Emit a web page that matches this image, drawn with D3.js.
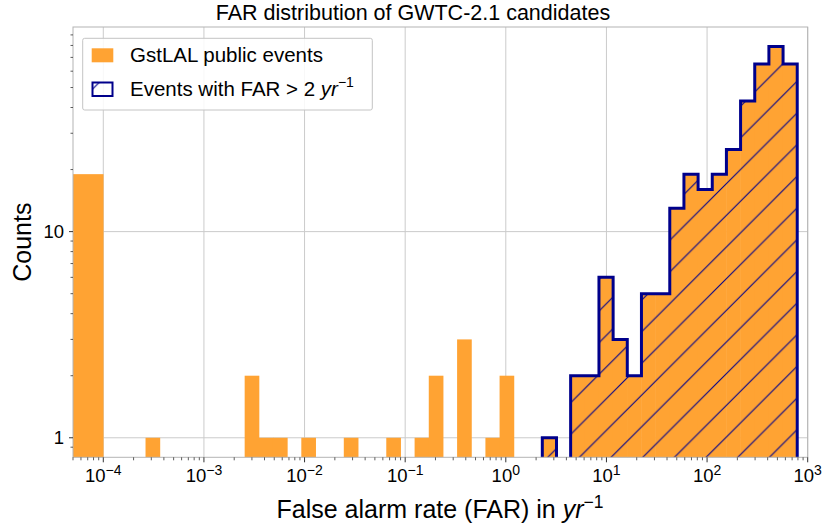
<!DOCTYPE html>
<html>
<head>
<meta charset="utf-8">
<script src="https://cdn.jsdelivr.net/npm/d3@7"></script>
<style>
  body { margin: 0; background: #fff; }
  text { font-family: "Liberation Sans", Arial, sans-serif; fill: #000; }
</style>
</head>
<body>
<div id="chart"></div>
<script>
// histogram of GstLAL public events, FAR in yr^-1, log spaced bins
let farEdgeMin = 1e-4,
    farEdgeMax = 787,
    nBins = 49;
// everything below 1e-4 lands in one wide bin
let underflowCount = 19;
let binCounts = [
  0, 0, 0, 1, 0, 0, 0, 0, 0, 0,
  2, 1, 1, 0, 1, 0, 0, 1, 0, 0,
  1, 0, 1, 2, 0, 3, 0, 1, 2, 0,
  0, 1, 0, 2, 2, 6, 3, 2, 5, 5,
  13, 19, 16, 19, 25, 43, 65, 79, 65
];
let farThreshold = 2;
let xTickValues = [1e-4, 1e-3, 1e-2, 1e-1, 1e0, 1e1, 1e2, 1e3];
let xTickExps = ["\u22124", "\u22123", "\u22122", "\u22121", "0", "1", "2", "3"];
let yTickValues = [1, 10];
let yTickLabels = ["1", "10"];

let chartW = 826, chartH = 532;
let pLeft = 73, pRight = 807.7, pTop = 27, pBottom = 457.3;

let binEdges = d3.range(nBins + 1).map(i => farEdgeMin * Math.pow(farEdgeMax / farEdgeMin, i / nBins));
let bins = binCounts.map((c, i) => ({ x0: binEdges[i], x1: binEdges[i + 1], count: c }));
bins.unshift({ x0: 1e-7, x1: farEdgeMin, count: underflowCount });
let highBins = bins.map(b => ({ x0: b.x0, x1: b.x1, count: b.x0 >= farThreshold ? b.count : 0 }));

let x = d3.scaleLog().domain([5e-5, 1e3]).range([pLeft, pRight]);
let y = d3.scaleLog().domain([0.804, 98.3]).range([pBottom, pTop]);

let svg = d3.select("#chart").append("svg")
  .attr("width", chartW)
  .attr("height", chartH);

let defs = svg.append("defs");
defs.append("clipPath").attr("id", "plotClip")
  .append("rect")
  .attr("x", pLeft).attr("y", pTop)
  .attr("width", pRight - pLeft).attr("height", pBottom - pTop);

let P = 31.67;
let hatch = defs.append("pattern")
  .attr("id", "hatch")
  .attr("patternUnits", "userSpaceOnUse")
  .attr("width", P).attr("height", P)
  .attr("patternTransform", "translate(23.3,0)");
hatch.append("path")
  .attr("d", `M${-P / 2},${P / 2} L${P / 2},${-P / 2} M0,${P} L${P},0 M${P / 2},${P * 1.5} L${P * 1.5},${P / 2}`)
  .attr("stroke", "#00008b")
  .attr("stroke-width", 1.1);

// grid
svg.append("g").selectAll("line.vgrid")
  .data(xTickValues)
  .enter().append("line")
  .attr("x1", d => x(d)).attr("x2", d => x(d))
  .attr("y1", pTop).attr("y2", pBottom)
  .attr("stroke", "#cbcbcb").attr("stroke-width", 1);
svg.append("g").selectAll("line.hgrid")
  .data(yTickValues)
  .enter().append("line")
  .attr("x1", pLeft).attr("x2", pRight)
  .attr("y1", d => y(d)).attr("y2", d => y(d))
  .attr("stroke", "#cbcbcb").attr("stroke-width", 1);

let plot = svg.append("g").attr("clip-path", "url(#plotClip)");

// bars overlap by half a pixel so neighbours show no seam
plot.selectAll("rect.bar")
  .data(bins.filter(b => b.count > 0))
  .enter().append("rect")
  .attr("class", "bar")
  .attr("x", d => x(d.x0) - 0.25)
  .attr("width", d => x(d.x1) - x(d.x0) + 0.5)
  .attr("y", d => y(d.count))
  .attr("height", d => pBottom + 10 - y(d.count))
  .attr("fill", "#ffa333");

// step outline of the FAR > 2 events, one path per run of non-empty bins
let runs = [], cur = null;
highBins.forEach(b => {
  if (b.count > 0) {
    if (!cur) { cur = []; runs.push(cur); }
    cur.push(b);
  } else cur = null;
});
let base = pBottom + 10;
let stepPath = run => {
  let p = `M${x(run[0].x0)},${base}`;
  run.forEach(b => {
    p += ` L${x(b.x0)},${y(b.count)} L${x(b.x1)},${y(b.count)}`;
  });
  p += ` L${x(run[run.length - 1].x1)},${base}`;
  return p;
};
plot.selectAll("path.step")
  .data(runs)
  .enter().append("path")
  .attr("class", "step")
  .attr("d", stepPath)
  .attr("fill", "url(#hatch)")
  .attr("stroke", "#00008b")
  .attr("stroke-width", 3)
  .attr("stroke-linejoin", "miter");

// spines
svg.append("rect")
  .attr("x", pLeft).attr("y", pTop)
  .attr("width", pRight - pLeft).attr("height", pBottom - pTop)
  .attr("fill", "none")
  .attr("stroke", "#b4b4b4").attr("stroke-width", 1);

// x ticks
let xMinor = [];
d3.range(-5, 3).forEach(e => d3.range(2, 10).forEach(m => {
  let v = m * Math.pow(10, e);
  if (v >= 5e-5 && v <= 1e3) xMinor.push(v);
}));
svg.append("g").selectAll("line")
  .data(xMinor)
  .enter().append("line")
  .attr("x1", d => x(d)).attr("x2", d => x(d))
  .attr("y1", pBottom).attr("y2", pBottom + 3)
  .attr("stroke", "#333").attr("stroke-width", 0.8);
svg.append("g").selectAll("line")
  .data(xTickValues)
  .enter().append("line")
  .attr("x1", d => x(d)).attr("x2", d => x(d))
  .attr("y1", pBottom).attr("y2", pBottom + 5)
  .attr("stroke", "#333").attr("stroke-width", 1);
let xLabels = svg.append("g").selectAll("text")
  .data(xTickValues)
  .enter().append("text")
  .attr("x", d => x(d))
  .attr("y", 482)
  .attr("text-anchor", "middle")
  .style("font-size", "18.5px");
xLabels.append("tspan").text("10");
xLabels.append("tspan")
  .attr("dy", -7.5)
  .style("font-size", "14px")
  .text((d, i) => xTickExps[i]);

// y ticks
let yMinor = [0.9, 2, 3, 4, 5, 6, 7, 8, 9, 20, 30, 40, 50, 60, 70, 80, 90];
svg.append("g").selectAll("line")
  .data(yMinor)
  .enter().append("line")
  .attr("x1", pLeft - 2.5).attr("x2", pLeft)
  .attr("y1", d => y(d)).attr("y2", d => y(d))
  .attr("stroke", "#333").attr("stroke-width", 0.8);
svg.append("g").selectAll("line")
  .data(yTickValues)
  .enter().append("line")
  .attr("x1", pLeft - 4).attr("x2", pLeft)
  .attr("y1", d => y(d)).attr("y2", d => y(d))
  .attr("stroke", "#333").attr("stroke-width", 1);
svg.append("g").selectAll("text")
  .data(yTickValues)
  .enter().append("text")
  .attr("x", pLeft - 9)
  .attr("y", d => y(d) + 6.5)
  .attr("text-anchor", "end")
  .style("font-size", "18.5px")
  .text((d, i) => yTickLabels[i]);

// titles
svg.append("text")
  .attr("x", chartW / 2)
  .attr("y", 20)
  .attr("text-anchor", "middle")
  .style("font-size", "21.5px")
  .text("FAR distribution of GWTC-2.1 candidates");

let xl = svg.append("text")
  .attr("x", 440)
  .attr("y", 518)
  .attr("text-anchor", "middle")
  .style("font-size", "25px");
xl.append("tspan").text("False alarm rate (FAR) in ");
xl.append("tspan").style("font-style", "italic").text("yr");
xl.append("tspan").attr("dy", -10).style("font-size", "17.5px").text("\u22121");

svg.append("text")
  .attr("transform", `translate(31,${(pTop + pBottom) / 2}) rotate(-90)`)
  .attr("text-anchor", "middle")
  .style("font-size", "25px")
  .text("Counts");

// legend
let lg = svg.append("g");
lg.append("rect")
  .attr("x", 82.7).attr("y", 38.3)
  .attr("width", 289.6).attr("height", 71.7)
  .attr("rx", 2)
  .attr("fill", "#fff").attr("fill-opacity", 0.85)
  .attr("stroke", "#c4c4c4").attr("stroke-width", 1);
lg.append("rect")
  .attr("x", 91.7).attr("y", 48.3)
  .attr("width", 21.6).attr("height", 14)
  .attr("fill", "#ffa333");
lg.append("rect")
  .attr("x", 92.5).attr("y", 82.5)
  .attr("width", 20).attr("height", 13.5)
  .attr("fill", "url(#hatch)")
  .attr("stroke", "#00008b").attr("stroke-width", 2);
lg.append("text")
  .attr("x", 130).attr("y", 62)
  .style("font-size", "20.5px")
  .text("GstLAL public events");
let lt = lg.append("text")
  .attr("x", 130).attr("y", 96)
  .style("font-size", "20.5px");
lt.append("tspan").text("Events with FAR > 2 ");
lt.append("tspan").style("font-style", "italic").text("yr");
lt.append("tspan").attr("dy", -9).style("font-size", "14px").text("\u22121");
</script>
</body>
</html>
